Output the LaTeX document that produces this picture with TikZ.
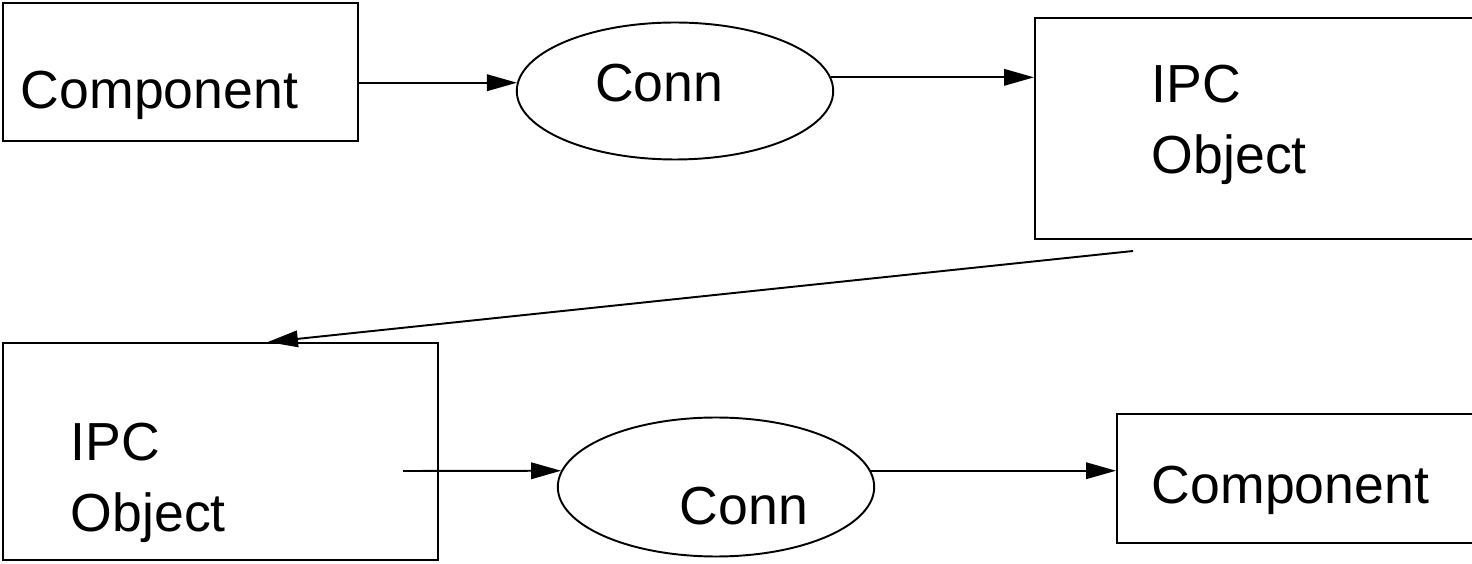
\documentclass[tikz,border=0pt]{standalone}
\usepackage{fontspec}
\setmainfont{Liberation Sans}
\usetikzlibrary{shapes.geometric,arrows.meta}
\begin{document}
\begin{tikzpicture}[x=0.02cm,y=-0.02cm,line width=1.1pt,
    every node/.style={font=\fontsize{30.5}{40}\selectfont,inner ysep=0pt},
    box/.style={draw,rectangle,anchor=north west,align=left},
    conn/.style={draw,ellipse,inner sep=0pt,minimum width=6.33cm}]
  \useasboundingbox (0,0) rectangle (1472,564);
  \draw
    (2,2) node[box,inner xsep=0.36cm,text width=6.38cm,text height=2.12cm,text depth=0.64cm] (comp1){Component}
    (675,91) node[conn,minimum height=2.74cm,text width=3.2cm,align=left,text height=0.8cm,text depth=0.36cm] (conn1){Conn}
    (1034,17) node[box,inner xsep=2.34cm,text width=4.52cm,text height=1.7cm,text depth=2.72cm] (ipc1){IPC\\Object}
    (2,342) node[box,inner xsep=1.36cm,text width=5.98cm,text height=2.36cm,text depth=1.98cm] (ipc2){IPC\\Object}
    (716,487) node[conn,minimum height=2.78cm,text width=3.68cm,align=right,text height=1.6cm,text depth=0.08cm] (conn2){Conn}
    (1116,413) node[box,inner xsep=0.7cm,text width=6.2cm,text height=1.8cm,text depth=0.78cm] (comp2){Component};
  \coordinate (ipctail) at (1133,251);
  \coordinate (ipcout) at (403,471);
  \begin{scope}[-{Triangle[length=0.6cm,width=0.33cm]}]
    \draw (comp1.east |- conn1.177) to (conn1.177);
    \draw (conn1.5) to (conn1.5 -| ipc1.west);
    \draw (ipctail) to ([xshift=0.95cm]ipc2.north);
    \draw (ipcout) to (conn2.174);
    \draw (conn2.6) to (conn2.6 -| comp2.west);
  \end{scope}
\end{tikzpicture}
\end{document}
